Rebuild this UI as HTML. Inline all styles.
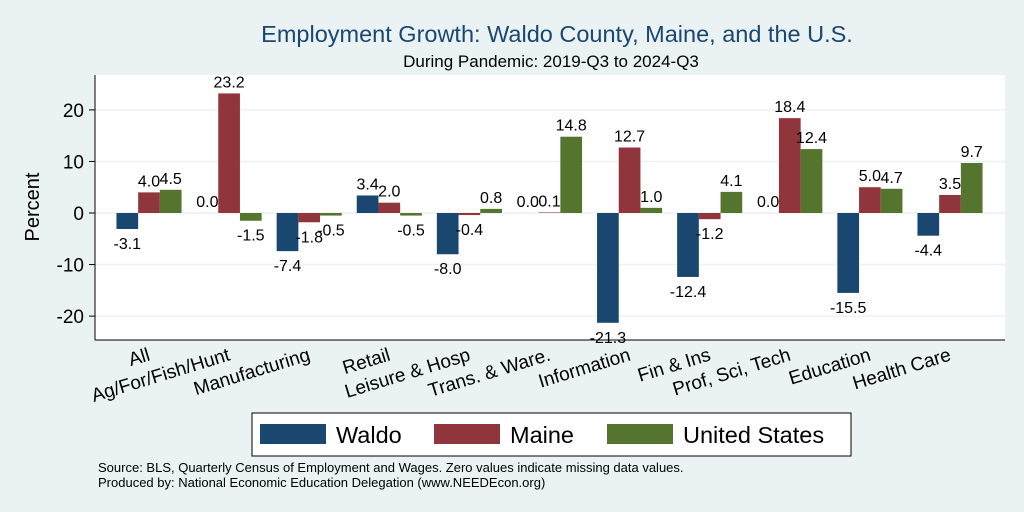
<!DOCTYPE html>
<html><head><meta charset="utf-8"><style>
body{margin:0;background:#eaf2f3;}
svg{display:block;font-family:"Liberation Sans",sans-serif;}
</style></head><body>
<svg width="1024" height="512" viewBox="0 0 1024 512">
<rect width="1024" height="512" fill="#eaf2f3"/>
<text x="557" y="42" text-anchor="middle" font-size="23.5" fill="#1a476f">Employment Growth: Waldo County, Maine, and the U.S.</text>
<text x="551" y="67" text-anchor="middle" font-size="17" fill="#000">During Pandemic: 2019-Q3 to 2024-Q3</text>
<rect x="95" y="75" width="910" height="265" fill="#fff"/>
<g id="grid"></g>
<g id="bars"></g>
<g id="labels"></g>
<line x1="95" y1="75" x2="95" y2="340" stroke="#000" stroke-width="1"/>
<line x1="95" y1="340" x2="1005" y2="340" stroke="#000" stroke-width="1"/>
<g id="yticks"></g>
<g id="xlabels"></g>
<text transform="translate(39,207) rotate(-90)" text-anchor="middle" font-size="20">Percent</text>
<g>
<rect x="252" y="413" width="599" height="43" fill="#fff" stroke="#000" stroke-width="1"/>
<rect x="260" y="424" width="66" height="20" fill="#1a476f"/>
<text x="336" y="443" font-size="23.5">Waldo</text>
<rect x="434" y="424" width="66" height="20" fill="#90353b"/>
<text x="510" y="443" font-size="23.5">Maine</text>
<rect x="607" y="424" width="66" height="20" fill="#55752f"/>
<text x="683" y="443" font-size="23.5">United States</text>
</g>
<text x="98" y="472" font-size="13">Source: BLS, Quarterly Census of Employment and Wages. Zero values indicate missing data values.</text>
<text x="98" y="487" font-size="13">Produced by: National Economic Education Delegation (www.NEEDEcon.org)</text>
</svg>
<script>
const categories=["All","Ag/For/Fish/Hunt","Manufacturing","Retail","Leisure & Hosp","Trans. & Ware.","Information","Fin & Ins","Prof, Sci, Tech","Education","Health Care"];
const waldo=[-3.1,0.0,-7.4,3.4,-8.0,0.0,-21.3,-12.4,0.0,-15.5,-4.4];
const maine=[4.0,23.2,-1.8,2.0,-0.4,0.1,12.7,-1.2,18.4,5.0,3.5];
const us=[4.5,-1.5,-0.5,-0.5,0.8,14.8,1.0,4.1,12.4,4.7,9.7];
const yTicks=[-20,-10,0,10,20];
const NS="http://www.w3.org/2000/svg";
function y(v){return 213-v*5.155;}
function gx(i){return 149+i*80.1;}
const BW=21.7;
function mk(tag,attrs,parent){const e=document.createElementNS(NS,tag);for(const k in attrs)e.setAttribute(k,attrs[k]);document.getElementById(parent).appendChild(e);return e;}
yTicks.forEach(t=>{
  const g=mk("line",{x1:95,x2:1005,y1:y(t),y2:y(t),stroke:"#eaf2f3","stroke-width":1.5},"grid");
  
  
  const tk=mk("line",{x1:89,x2:95,y1:y(t),y2:y(t),stroke:"#000"},"yticks");
  
  
  const tl=mk("text",{x:84,y:y(t)+7,"text-anchor":"end","font-size":19},"yticks");
  tl.textContent=String(t);
  
  
});
const series=[[waldo,"#1a476f","waldo"],[maine,"#90353b","maine"],[us,"#55752f","us"]];
categories.forEach((c,i)=>{
  series.forEach(([arr,col,nm],s)=>{
    const v=arr[i];const x0=gx(i)+(s-1.5)*BW;
    const top=Math.min(y(v),y(0)),h=Math.abs(y(v)-y(0));
    const r=mk("rect",{x:x0,y:top,width:BW,height:Math.max(h,0.01),fill:col},"bars");
    
    
    const ly=v>=0?y(v)-6:y(v)+20;
    const t=mk("text",{x:x0+BW/2,y:ly,"text-anchor":"middle","font-size":16},"labels");
    t.textContent=v.toFixed(1);
    
    
  });
  const xl=mk("text",{transform:"translate("+(gx(i)+2)+",360) rotate(-17)","text-anchor":"end","font-size":19},"xlabels");
  xl.textContent=c;
  
  
});
</script>
</body></html>
